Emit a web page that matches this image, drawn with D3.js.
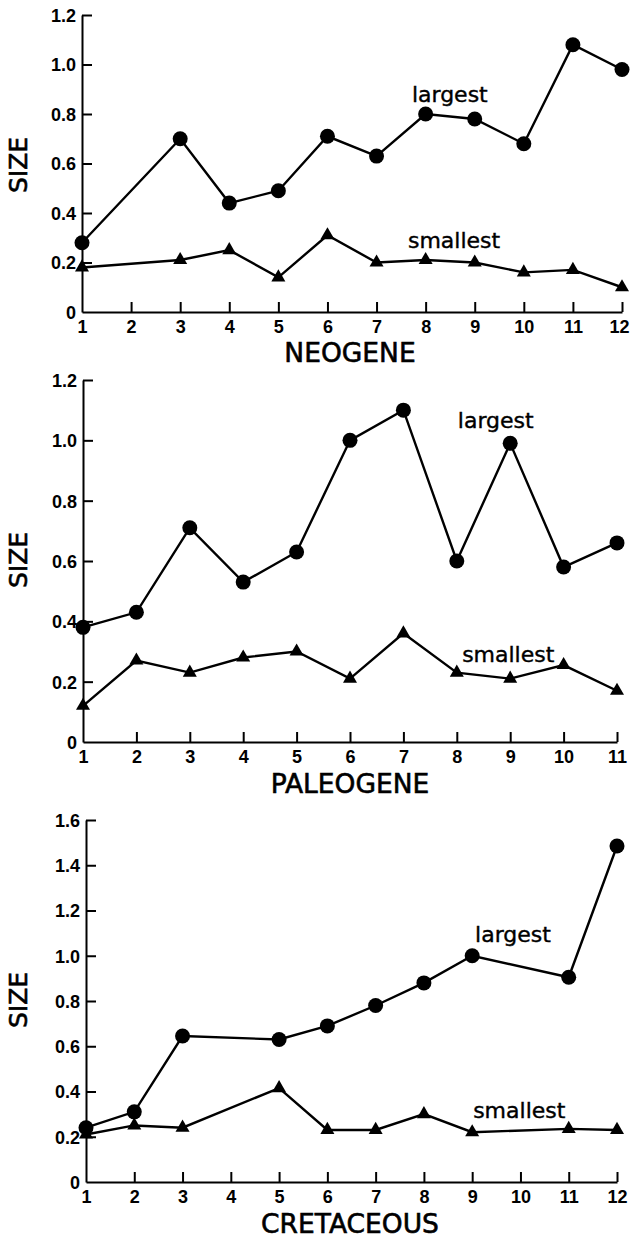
<!DOCTYPE html>
<html>
<head>
<meta charset="utf-8">
<script src="https://cdn.jsdelivr.net/npm/d3@7"></script>
<style>
  html, body { margin: 0; padding: 0; background: #fff; }
  svg { display: block; }
  .tick text { font-family: "Liberation Sans", Arial, sans-serif; font-weight: bold; font-size: 18px; fill: #000; }
  .title { font-family: "DejaVu Sans", sans-serif; font-size: 26.5px; fill: #000; stroke: #000; stroke-width: 0.6px; }
  .ytitle { font-family: "DejaVu Sans", sans-serif; font-size: 25px; fill: #000; stroke: #000; stroke-width: 0.6px; }
  .series-label { font-family: "DejaVu Sans", sans-serif; font-size: 22px; fill: #000; stroke: #000; stroke-width: 0.4px; }
</style>
</head>
<body>
<svg id="chart" width="631" height="1238"></svg>
<script>
// Size of the largest and smallest forms per interval, three geologic periods
const neogeneIntervals   = [1, 3, 4, 5, 6, 7, 8, 9, 10, 11, 12];
const neogeneLargest     = [0.28, 0.70, 0.44, 0.49, 0.71, 0.63, 0.80, 0.78, 0.68, 1.08, 0.98];
const neogeneSmallest    = [0.18, 0.21, 0.25, 0.14, 0.31, 0.20, 0.21, 0.20, 0.16, 0.17, 0.10];
const neogeneTicksX      = [1, 2, 3, 4, 5, 6, 7, 8, 9, 10, 11, 12];
const neogeneTicksY      = [0, 0.2, 0.4, 0.6, 0.8, 1.0, 1.2];

const paleogeneIntervals = [1, 2, 3, 4, 5, 6, 7, 8, 9, 10, 11];
const paleogeneLargest   = [0.38, 0.43, 0.71, 0.53, 0.63, 1.00, 1.10, 0.60, 0.99, 0.58, 0.66];
const paleogeneSmallest  = [0.12, 0.27, 0.23, 0.28, 0.30, 0.21, 0.36, 0.23, 0.21, 0.255, 0.17];
const paleogeneTicksX    = [1, 2, 3, 4, 5, 6, 7, 8, 9, 10, 11];
const paleogeneTicksY    = [0, 0.2, 0.4, 0.6, 0.8, 1.0, 1.2];

const cretaceousIntervals = [1, 2, 3, 5, 6, 7, 8, 9, 11, 12];
const cretaceousLargest   = [0.24, 0.31, 0.645, 0.63, 0.69, 0.78, 0.88, 1.00, 0.905, 1.485];
const cretaceousSmallest  = [0.21, 0.25, 0.24, 0.415, 0.23, 0.23, 0.30, 0.22, 0.235, 0.23];
const cretaceousTicksX    = [1, 2, 3, 4, 5, 6, 7, 8, 9, 10, 11, 12];
const cretaceousTicksY    = [0, 0.2, 0.4, 0.6, 0.8, 1.0, 1.2, 1.4, 1.6];

const svg = d3.select("#chart");
const pageWidth = 631;

// Layout of each panel on the page
const panels = [
  { name: "NEOGENE", x: neogeneIntervals, large: neogeneLargest, small: neogeneSmallest,
    ticksX: neogeneTicksX, ticksY: neogeneTicksY,
    xRange: [82, 622], yRange: [312, 15], titleY: 362, yTitleY: 165,
    largeLabel: [7.72, 0.85], smallLabel: [7.64, 0.26] },
  { name: "PALEOGENE", x: paleogeneIntervals, large: paleogeneLargest, small: paleogeneSmallest,
    ticksX: paleogeneTicksX, ticksY: paleogeneTicksY,
    xRange: [83, 617], yRange: [742, 380], titleY: 793, yTitleY: 560,
    largeLabel: [8.02, 1.04], smallLabel: [8.10, 0.265] },
  { name: "CRETACEOUS", x: cretaceousIntervals, large: cretaceousLargest, small: cretaceousSmallest,
    ticksX: cretaceousTicksX, ticksY: cretaceousTicksY,
    xRange: [86, 617], yRange: [1182, 820], titleY: 1233, yTitleY: 1000,
    largeLabel: [9.06, 1.06], smallLabel: [9.02, 0.283] }
];

const fmtY = d => d === 0 ? "0" : d3.format(".1f")(d);

panels.forEach(p => {
  const xs = d3.scaleLinear()
    .domain([p.ticksX[0], p.ticksX[p.ticksX.length - 1]])
    .range(p.xRange);
  const ys = d3.scaleLinear()
    .domain([0, p.ticksY[p.ticksY.length - 1]])
    .range(p.yRange);

  const g = svg.append("g");

  // x axis, ticks pointing up into the plot
  const xAxis = g.append("g")
    .attr("transform", `translate(0,${p.yRange[0]})`)
    .call(d3.axisBottom(xs).tickValues(p.ticksX).tickSize(-10).tickPadding(0).tickSizeOuter(0)
      .tickFormat(d3.format("d")));
  xAxis.selectAll(".tick text").attr("y", 21).attr("dy", 0);

  // keep the last tick label inside the page
  xAxis.selectAll(".tick text").each(function (d) {
    const box = this.getBBox();
    const right = xs(d) + box.x + box.width;
    if (right > pageWidth - 2) d3.select(this).attr("x", (pageWidth - 2) - right);
  });

  // y axis, ticks pointing right into the plot
  const yAxis = g.append("g")
    .attr("transform", `translate(${p.xRange[0]},0)`)
    .call(d3.axisLeft(ys).tickValues(p.ticksY).tickSize(-10).tickPadding(6).tickSizeOuter(0)
      .tickFormat(fmtY));
  yAxis.selectAll(".tick text").attr("x", -6).attr("dy", "0.36em");

  [xAxis, yAxis].forEach(a => {
    a.select(".domain").attr("stroke", "#000").attr("stroke-width", 2);
    a.selectAll(".tick line").attr("stroke", "#000").attr("stroke-width", 2);
  });
  // the zero ticks coincide with the other axis
  yAxis.selectAll(".tick").filter(d => d === 0).select("line").remove();
  xAxis.selectAll(".tick").filter((d, i) => i === 0).select("line").remove();

  const lineGen = d3.line().x(d => xs(d[0])).y(d => ys(d[1]));
  const largePts = p.x.map((v, i) => [v, p.large[i]]);
  const smallPts = p.x.map((v, i) => [v, p.small[i]]);

  g.append("path").datum(largePts).attr("d", lineGen)
    .attr("fill", "none").attr("stroke", "#000").attr("stroke-width", 2.4);
  g.append("path").datum(smallPts).attr("d", lineGen)
    .attr("fill", "none").attr("stroke", "#000").attr("stroke-width", 2.4);

  g.selectAll(".dot").data(largePts).join("circle")
    .attr("cx", d => xs(d[0])).attr("cy", d => ys(d[1])).attr("r", 7.5).attr("fill", "#000");

  const tri = d3.symbol().type(d3.symbolTriangle).size(85);
  g.selectAll(".tri").data(smallPts).join("path")
    .attr("d", tri)
    .attr("transform", d => `translate(${xs(d[0])},${ys(d[1])})`)
    .attr("fill", "#000");

  g.append("text").attr("class", "series-label")
    .attr("x", xs(p.largeLabel[0])).attr("y", ys(p.largeLabel[1])).text("largest");
  g.append("text").attr("class", "series-label")
    .attr("x", xs(p.smallLabel[0])).attr("y", ys(p.smallLabel[1])).text("smallest");

  g.append("text").attr("class", "title")
    .attr("x", 350).attr("y", p.titleY).attr("text-anchor", "middle").text(p.name);

  g.append("text").attr("class", "ytitle")
    .attr("transform", `translate(27,${p.yTitleY}) rotate(-90)`)
    .attr("text-anchor", "middle").text("SIZE");
});
</script>
</body>
</html>
